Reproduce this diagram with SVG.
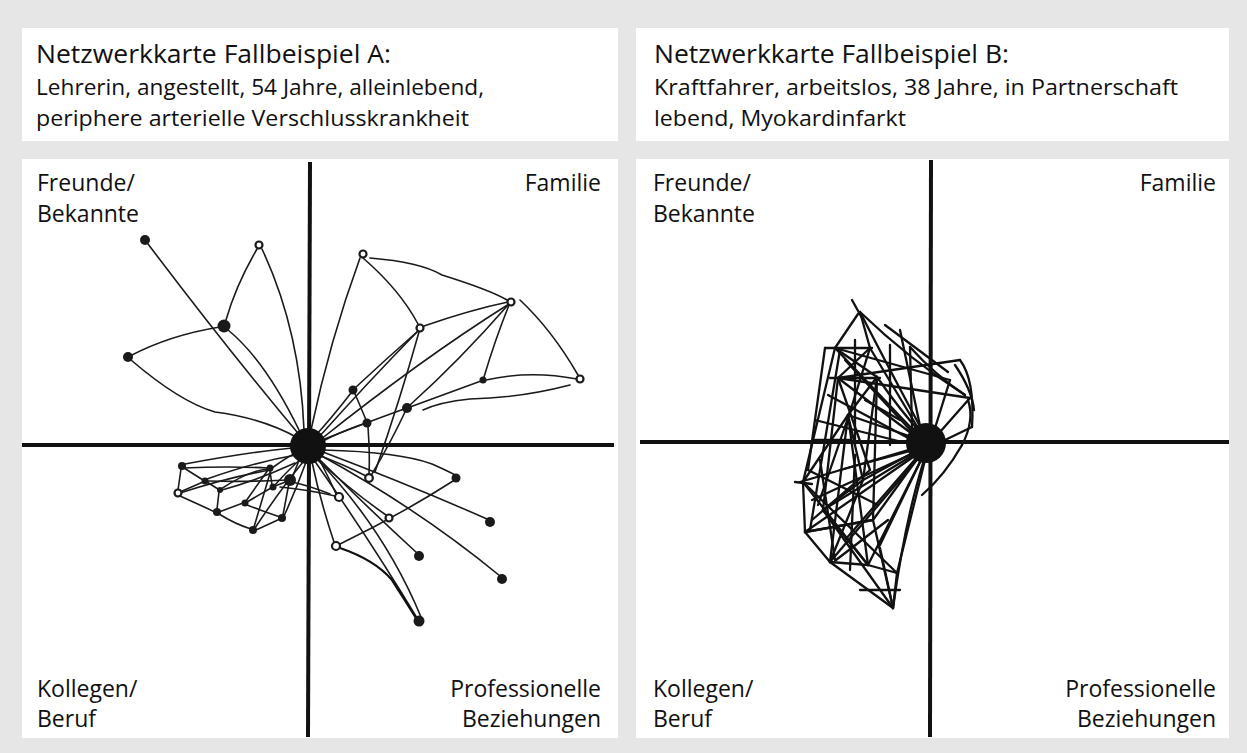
<svg xmlns="http://www.w3.org/2000/svg" width="1247" height="753" viewBox="0 0 1247 753">
<style>
.bg{fill:#e6e6e6}
.box{fill:#ffffff}
.title{font-family:"Open Sans","Liberation Sans",sans-serif;font-size:25px;fill:#111}
.sub{font-family:"Open Sans","Liberation Sans",sans-serif;font-size:21px;fill:#111}
.lab{font-family:"Open Sans","Liberation Sans",sans-serif;font-size:23px;fill:#111}
.end{text-anchor:end}
.axis{stroke:#111;stroke-width:4;fill:none}
.e{stroke:#1a1a1a;stroke-width:1.6;fill:none;stroke-linecap:round}
.eb{stroke:#111;stroke-width:2.3;fill:none;stroke-linecap:round}
.n{fill:#1a1a1a}
.o{fill:#fff;stroke:#1a1a1a;stroke-width:2.2}
.ctr{fill:#111}
</style>
<rect class="bg" x="0" y="0" width="1247" height="753"/>

<g id="headerA">
<rect class="box" x="22" y="28" width="596" height="113"/>
<text class="title" x="36" y="63" textLength="355" lengthAdjust="spacingAndGlyphs">Netzwerkkarte Fallbeispiel A:</text>
<text class="sub" x="36" y="95" textLength="448" lengthAdjust="spacingAndGlyphs">Lehrerin, angestellt, 54 Jahre, alleinlebend,</text>
<text class="sub" x="36" y="126" textLength="433" lengthAdjust="spacingAndGlyphs">periphere arterielle Verschlusskrankheit</text>
</g>
<g id="headerB">
<rect class="box" x="636" y="28" width="593" height="113"/>
<text class="title" x="654" y="63" textLength="355" lengthAdjust="spacingAndGlyphs">Netzwerkkarte Fallbeispiel B:</text>
<text class="sub" x="654" y="95" textLength="524" lengthAdjust="spacingAndGlyphs">Kraftfahrer, arbeitslos, 38 Jahre, in Partnerschaft</text>
<text class="sub" x="654" y="126" textLength="252" lengthAdjust="spacingAndGlyphs">lebend, Myokardinfarkt</text>
</g>

<g id="panelA">
<rect class="box" x="22" y="159" width="596" height="579"/>
<line class="axis" x1="310" y1="162" x2="308" y2="737"/>
<line class="axis" x1="22" y1="445" x2="614" y2="445"/>
<text class="lab" x="37" y="191">Freunde/</text>
<text class="lab" x="37" y="222">Bekannte</text>
<text class="lab end" x="601" y="191">Familie</text>
<text class="lab" x="37" y="697">Kollegen/</text>
<text class="lab" x="37" y="727">Beruf</text>
<text class="lab end" x="601" y="697">Professionelle</text>
<text class="lab end" x="601" y="727">Beziehungen</text>
</g>

<g id="panelB">
<rect class="box" x="636" y="159" width="593" height="579"/>
<line class="axis" x1="931" y1="160" x2="930" y2="737"/>
<line class="axis" x1="640" y1="442" x2="1229" y2="442"/>
<text class="lab" x="653" y="191">Freunde/</text>
<text class="lab" x="653" y="222">Bekannte</text>
<text class="lab end" x="1216" y="191">Familie</text>
<text class="lab" x="653" y="697">Kollegen/</text>
<text class="lab" x="653" y="727">Beruf</text>
<text class="lab end" x="1216" y="697">Professionelle</text>
<text class="lab end" x="1216" y="727">Beziehungen</text>
</g>

<g id="connectorsA">
<path class="e" d="M145,240 Q228,350 302,438"/>
<path class="e" d="M257,249 Q236,285 226,320"/>
<path class="e" d="M262,249 Q300,330 304,430"/>
<path class="e" d="M220,327 Q170,335 130,356"/>
<path class="e" d="M228,330 Q265,360 300,432"/>
<path class="e" d="M131,360 Q180,402 215,412 Q262,418 298,438"/>
<path class="e" d="M360,258 Q330,340 311,430"/>
<path class="e" d="M363,258 Q400,290 418,324"/>
<path class="e" d="M370,258 Q420,262 442,275 Q490,290 507,300"/>
<path class="e" d="M520,300 Q552,330 578,375"/>
<path class="e" d="M424,326 Q470,310 508,302"/>
<path class="e" d="M509,304 Q420,360 320,440"/>
<path class="e" d="M508,305 Q460,360 410,405"/>
<path class="e" d="M509,305 Q495,340 484,377"/>
<path class="e" d="M418,331 Q370,380 318,438"/>
<path class="e" d="M419,332 Q400,400 375,472"/>
<path class="e" d="M577,379 Q530,370 486,380"/>
<path class="e" d="M481,381 Q440,396 410,407"/>
<path class="e" d="M570,385 Q520,398 470,399 Q440,402 423,410"/>
<path class="e" d="M404,409 Q360,425 322,440"/>
<path class="e" d="M355,388 Q385,360 418,331"/>
<path class="e" d="M351,393 Q330,420 315,436"/>
<path class="e" d="M355,394 Q362,410 366,420"/>
<path class="e" d="M363,424 Q340,432 323,441"/>
<path class="e" d="M368,427 Q370,455 369,474"/>
<path class="e" d="M372,474 Q392,440 405,412"/>
<path class="e" d="M324,450 Q400,452 432,464 Q450,472 455,475"/>
<path class="e" d="M453,481 Q400,515 340,544"/>
<path class="e" d="M323,452 Q410,485 487,519"/>
<path class="e" d="M320,455 Q420,510 500,576"/>
<path class="e" d="M318,458 Q370,510 417,553"/>
<path class="e" d="M314,460 Q370,540 417,618"/>
<path class="e" d="M317,459 Q385,530 421,617"/>
<path class="eb" d="M340,548 Q375,560 392,580 Q405,600 416,618"/>
<path class="e" d="M312,462 Q320,500 334,542"/>
<path class="e" d="M318,457 Q330,480 336,494"/>
<path class="e" d="M280,487 Q310,490 335,496"/>
<path class="e" d="M318,455 Q345,465 366,476"/>
<path class="e" d="M316,458 Q350,490 386,515"/>
<path class="e" d="M185,464 Q250,452 292,448"/>
<path class="e" d="M183,468 Q230,466 268,468"/>
<path class="e" d="M181,469 L178,490"/>
<path class="e" d="M184,468 L203,480"/>
<path class="e" d="M180,492 L203,482"/>
<path class="e" d="M180,496 Q200,505 215,512"/>
<path class="e" d="M207,482 L218,489"/>
<path class="e" d="M207,481 Q250,482 287,480"/>
<path class="e" d="M219,492 L217,509"/>
<path class="e" d="M221,489 Q250,470 268,469"/>
<path class="e" d="M219,512 L243,503"/>
<path class="e" d="M219,514 Q235,524 251,529"/>
<path class="e" d="M246,501 L268,470"/>
<path class="e" d="M247,502 L271,488"/>
<path class="e" d="M247,505 Q265,512 280,517"/>
<path class="e" d="M270,471 L272,485"/>
<path class="e" d="M271,470 L254,527"/>
<path class="e" d="M275,486 L288,481"/>
<path class="e" d="M289,483 L283,515"/>
<path class="e" d="M256,530 L280,519"/>
<path class="e" d="M272,468 Q290,455 298,452"/>
<path class="e" d="M292,478 L300,458"/>
<path class="e" d="M275,485 Q290,468 302,458"/>
<path class="e" d="M284,516 Q296,490 306,462"/>
<path class="e" d="M255,528 Q280,490 303,462"/>
<path class="e" d="M207,479 Q255,462 296,455"/>
<path class="e" d="M222,490 Q258,480 295,463"/>
<path class="e" d="M180,493 Q230,477 270,470"/>
<path class="e" d="M292,482 Q310,486 330,494"/>
</g>

<g id="nodesA">
<circle id="a-center" class="ctr" cx="308" cy="446" r="18"/>
<circle id="a-a1" class="n" cx="145" cy="240" r="5"/>
<circle id="a-a2" class="o" cx="259" cy="245" r="3.5"/>
<circle id="a-a3" class="n" cx="224" cy="326" r="6.5"/>
<circle id="a-a4" class="n" cx="128" cy="357" r="5"/>
<circle id="a-b1" class="o" cx="363" cy="254" r="3.5"/>
<circle id="a-b2" class="o" cx="511" cy="302" r="3.5"/>
<circle id="a-b3" class="o" cx="420" cy="328" r="3.5"/>
<circle id="a-b4" class="o" cx="580" cy="379" r="3.5"/>
<circle id="a-b5" class="n" cx="483" cy="380" r="3.5"/>
<circle id="a-b6" class="n" cx="353" cy="390" r="4.5"/>
<circle id="a-b7" class="n" cx="407" cy="408" r="5"/>
<circle id="a-b8" class="n" cx="367" cy="423" r="4.5"/>
<circle id="a-c1" class="o" cx="369" cy="478" r="3.8"/>
<circle id="a-c2" class="n" cx="456" cy="478" r="4.5"/>
<circle id="a-c3" class="o" cx="339" cy="497" r="4"/>
<circle id="a-c4" class="o" cx="389" cy="518" r="3.5"/>
<circle id="a-c5" class="n" cx="490" cy="522" r="5"/>
<circle id="a-c6" class="o" cx="336" cy="546" r="4"/>
<circle id="a-c7" class="n" cx="419" cy="556" r="5"/>
<circle id="a-c8" class="n" cx="502" cy="579" r="5"/>
<circle id="a-c9" class="n" cx="419" cy="621" r="5.5"/>
<circle id="a-d1" class="n" cx="182" cy="466" r="4"/>
<circle id="a-d2" class="o" cx="178" cy="493" r="3.5"/>
<circle id="a-d3" class="n" cx="205" cy="481" r="3.5"/>
<circle id="a-d4" class="n" cx="220" cy="490" r="3"/>
<circle id="a-d5" class="n" cx="217" cy="512" r="4"/>
<circle id="a-d6" class="n" cx="245" cy="503" r="3.5"/>
<circle id="a-d7" class="n" cx="270" cy="468" r="3.5"/>
<circle id="a-d8" class="n" cx="273" cy="487" r="3.5"/>
<circle id="a-d9" class="n" cx="290" cy="480" r="6"/>
<circle id="a-d10" class="n" cx="282" cy="518" r="4"/>
<circle id="a-d11" class="n" cx="253" cy="530" r="4"/>
</g>

<g id="connectorsB">
<path class="eb" d="M860,312 Q895,380 922,430"/>
<path class="eb" d="M860,312 Q910,360 965,395"/>
<path class="eb" d="M858,314 L835,348"/>
<path class="eb" d="M860,312 L870,348"/>
<path class="eb" d="M852,300 L862,318"/>
<path class="eb" d="M825,348 L872,348"/>
<path class="eb" d="M835,348 Q880,395 915,432"/>
<path class="eb" d="M870,348 Q895,390 918,428"/>
<path class="eb" d="M835,348 L877,377"/>
<path class="eb" d="M835,348 L950,380"/>
<path class="eb" d="M870,348 L838,378"/>
<path class="eb" d="M870,348 L850,412"/>
<path class="eb" d="M835,348 L803,482"/>
<path class="eb" d="M840,350 L810,530"/>
<path class="eb" d="M830,378 L880,378"/>
<path class="eb" d="M838,378 Q880,410 915,436"/>
<path class="eb" d="M838,378 L960,360"/>
<path class="eb" d="M838,378 L970,398"/>
<path class="eb" d="M838,378 L823,510"/>
<path class="eb" d="M877,377 L848,415"/>
<path class="eb" d="M877,377 Q900,410 920,432"/>
<path class="eb" d="M877,377 L863,480"/>
<path class="eb" d="M877,377 L873,520"/>
<path class="eb" d="M910,347 Q935,375 965,395"/>
<path class="eb" d="M910,347 L912,428"/>
<path class="eb" d="M950,380 L935,428"/>
<path class="eb" d="M960,360 Q975,380 972,427"/>
<path class="eb" d="M970,398 L940,432"/>
<path class="eb" d="M972,427 L945,440"/>
<path class="eb" d="M848,415 L912,437"/>
<path class="eb" d="M848,415 L863,480"/>
<path class="eb" d="M848,415 L830,562"/>
<path class="eb" d="M848,415 L868,565"/>
<path class="eb" d="M855,340 L855,445"/>
<path class="eb" d="M890,345 L890,445"/>
<path class="eb" d="M800,482 L915,448"/>
<path class="eb" d="M803,482 L805,532"/>
<path class="eb" d="M803,482 L868,565"/>
<path class="eb" d="M803,482 L897,573"/>
<path class="eb" d="M823,510 L918,452"/>
<path class="eb" d="M823,510 L893,608"/>
<path class="eb" d="M823,510 L863,480"/>
<path class="eb" d="M805,532 L916,455"/>
<path class="eb" d="M805,532 L830,562"/>
<path class="eb" d="M805,532 L873,520"/>
<path class="eb" d="M830,562 L920,456"/>
<path class="eb" d="M830,562 L868,565"/>
<path class="eb" d="M830,562 L893,608"/>
<path class="eb" d="M868,565 L922,458"/>
<path class="eb" d="M868,565 L897,573"/>
<path class="eb" d="M868,565 L823,510"/>
<path class="eb" d="M897,573 L925,460"/>
<path class="eb" d="M893,608 L897,573"/>
<path class="eb" d="M893,608 Q905,520 924,460"/>
<path class="eb" d="M863,480 L918,450"/>
<path class="eb" d="M873,520 L920,455"/>
<path class="eb" d="M863,480 L830,562"/>
<path class="eb" d="M873,520 L805,532"/>
<path class="eb" d="M873,520 L893,608"/>
<path class="eb" d="M820,460 L835,560"/>
<path class="eb" d="M855,455 L850,570"/>
<path class="eb" d="M795,482 L812,484"/>
<path class="eb" d="M962,445 Q945,475 922,495"/>
<path class="eb" d="M968,400 Q975,420 962,445"/>
<path class="eb" d="M845,360 L914,434"/>
<path class="eb" d="M828,395 L912,440"/>
<path class="eb" d="M815,420 L910,444"/>
<path class="eb" d="M900,330 L920,426"/>
<path class="eb" d="M885,325 L948,372"/>
<path class="eb" d="M840,470 L914,450"/>
<path class="eb" d="M812,500 L916,452"/>
<path class="eb" d="M845,540 L918,456"/>
<path class="eb" d="M880,545 L922,458"/>
<path class="eb" d="M825,348 L808,470"/>
<path class="eb" d="M850,412 L818,505"/>
<path class="eb" d="M838,378 L870,470"/>
<path class="eb" d="M865,400 L900,420"/>
<path class="eb" d="M815,440 L850,440"/>
<path class="eb" d="M803,482 L848,415"/>
<path class="eb" d="M808,470 L878,505"/>
<path class="eb" d="M812,520 L870,470"/>
<path class="eb" d="M836,560 L888,520"/>
<path class="eb" d="M880,548 L893,608"/>
<path class="eb" d="M860,590 L900,590"/>
<path class="eb" d="M955,365 Q972,390 974,410"/>
</g>

<g id="nodesB">
<circle id="b-center" class="ctr" cx="926" cy="443" r="20"/>
</g>
</svg>
